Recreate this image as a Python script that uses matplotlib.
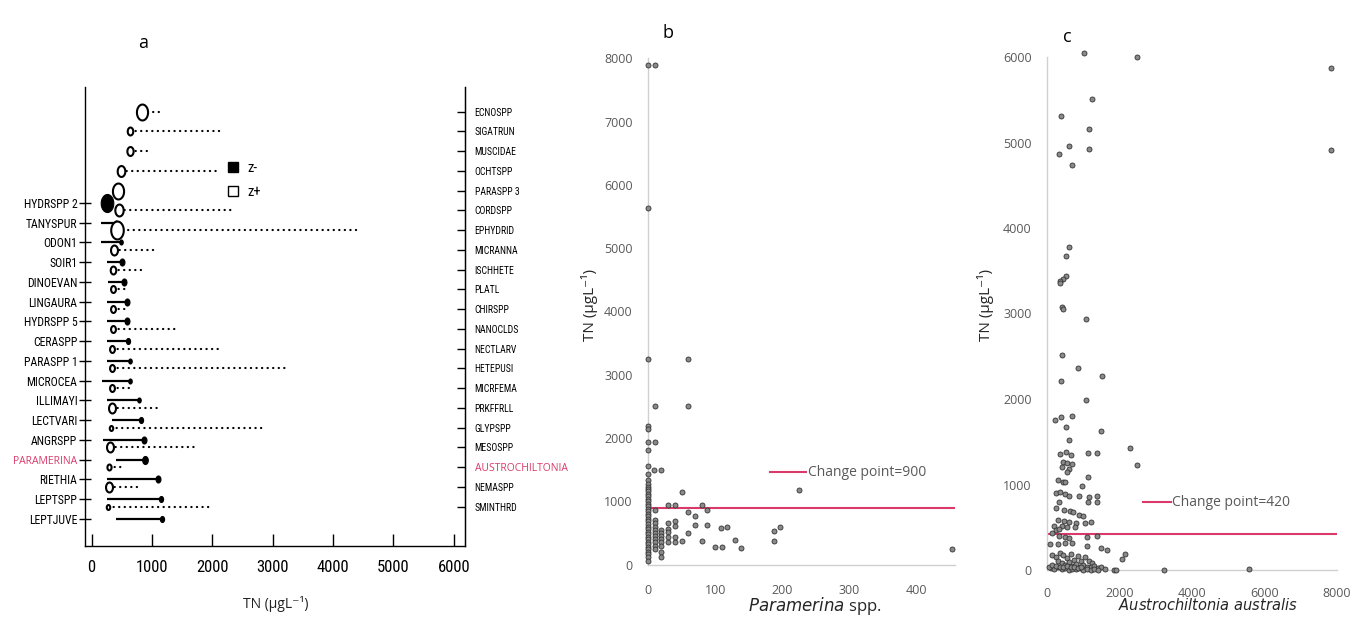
import numpy as np
import matplotlib
matplotlib.use('Agg')
import matplotlib.pyplot as plt
from matplotlib import font_manager
from matplotlib.path import Path
from matplotlib.lines import Line2D


def have(f):
    try:
        font_manager.findfont(font_manager.FontProperties(family=f), fallback_to_default=False)
        return True
    except Exception:
        return False


NARROW = next((f for f in ['Liberation Sans Narrow', 'DejaVu Sans Condensed',
                           'Roboto Condensed', 'Liberation Sans'] if have(f)), 'DejaVu Sans')
SANS = ['Open Sans', 'DejaVu Sans']

# ---------------- data: panel a (TITAN change points, TN ugL-1) ----------------
zminus_taxa = ['HYDRSPP 2', 'TANYSPUR', 'ODON1', 'SOIR1', 'DINOEVAN', 'LINGAURA', 'HYDRSPP 5',
               'CERASPP', 'PARASPP 1', 'MICROCEA', 'ILLIMAYI', 'LECTVARI', 'ANGRSPP',
               'PARAMERINA', 'RIETHIA', 'LEPTSPP', 'LEPTJUVE']
zminus_lo = [200, 150, 150, 260, 270, 260, 260, 252, 252, 170, 252, 335, 197, 400, 252, 252, 400]
zminus_cp = [260, 400, 480, 510, 530, 580, 580, 600, 640, 640, 780, 825, 865, 880, 1100, 1150, 1170]
zminus_z = [18, 5, 5, 7, 7, 7, 7, 6, 5, 5, 5, 6, 7, 8, 7, 6, 6]

zplus_taxa = ['ECNOSPP', 'SIGATRUN', 'MUSCIDAE', 'OCHTSPP', 'PARASPP 3', 'CORDSPP', 'EPHYDRID',
              'MICRANNA', 'ISCHHETE', 'PLATL', 'CHIRSPP', 'NANOCLDS', 'NECTLARV', 'HETEPUSI',
              'MICRFEMA', 'PRKFFRLL', 'GLYPSPP', 'MESOSPP', 'AUSTROCHILTONIA', 'NEMASPP', 'SMINTHRD']
zplus_cp = [830, 637, 637, 483, 445, 450, 417, 378, 361, 361, 361, 361, 345, 345, 345, 345,
            323, 306, 295, 290, 278]
zplus_hi = [1160, 2130, 940, 2100, 445, 2320, 4390, 1106, 858, 583, 583, 1410, 2128, 3230,
            665, 1106, 2834, 1713, 527, 775, 1962]
zplus_z = [18, 10, 11, 13, 18, 14, 20, 12, 10, 9, 9, 9, 9, 9, 9, 12, 7, 12, 8, 12, 7]

highlight = {'PARAMERINA', 'AUSTROCHILTONIA'}

# ---------------- data: panel b (Paramerina spp. vs TN) ----------------
b_x = [0, 10, 0, 0, 60, 10, 60,
       0, 0, 0, 10, 0, 0, 9, 19, 0,
       0, 0, 0, 0, 0, 0, 0, 0, 0, 0, 0, 0, 0, 0, 0, 0, 0, 0, 0, 0, 0, 0, 0, 0, 0, 0, 0, 0, 0, 0, 0, 0,
       50, 30, 40, 80, 10, 60, 88, 70,
       10, 10, 10, 10, 10, 10, 10, 10, 10, 10,
       20, 20, 20, 20, 20, 20, 20, 20,
       30, 40, 70, 88, 108, 118, 30, 40, 60, 30, 40, 50, 80, 100, 110, 129, 139,
       225, 187, 197, 187, 453, 30, 40, 30]
b_y = [7900, 7900, 5630, 3240, 3240, 2500, 2500,
       2185, 2145, 1940, 1930, 1817, 1555, 1500, 1500, 1437,
       1330, 1280, 1230, 1200, 1160, 1120, 1080, 1040, 1000, 960, 920, 880, 840, 800, 760, 720,
       680, 640, 600, 560, 520, 480, 440, 400, 360, 320, 280, 240, 200, 160, 120, 50,
       1142, 937, 937, 937, 855, 826, 855, 763,
       700, 650, 600, 550, 500, 450, 400, 350, 300, 250,
       550, 500, 450, 400, 350, 300, 200, 120,
       660, 685, 620, 620, 570, 600, 565, 610, 500, 360, 352, 370, 370, 280, 280, 384, 253,
       1174, 527, 596, 370, 248, 520, 430, 430]
b_change = 900

# ---------------- data: panel c (Austrochiltonia australis vs TN) ----------------
c_x = [1030, 2475, 7830, 1230, 386, 1160, 616, 1160, 340, 7830, 690,
       607, 533, 520, 430, 370, 350,
       405, 430, 1076, 405, 865, 1526, 386, 1076,
       221, 386, 680, 524, 1490, 598, 2290,
       368, 533, 671, 1140, 1388, 2475,
       450, 560, 680, 410, 600, 550,
       1140, 300, 440, 500, 965,
       240, 368, 500, 600, 870, 1150, 1388,
       330, 1130, 1380, 250, 460, 640, 720, 880, 1000,
       300, 460, 600, 800, 1050, 1200, 200, 400, 560, 760,
       240, 330, 150, 320, 490, 600, 1100, 1380, 80, 300, 500, 700, 1100, 1500, 1650, 2160, 2080,
       150, 250, 350, 450, 550, 650, 750, 850, 950, 1050, 1150, 1250,
       300, 400, 500, 600, 700, 800, 900, 1000, 1100, 1200, 1300, 1400, 1500, 1600,
       1850, 1900, 3230, 5570,
       100, 200, 300, 400, 500, 600, 700, 800, 900, 1000, 1100, 1200, 1300, 1400,
       50, 150, 250, 350, 450, 550, 650, 750, 850, 950]
c_y = [6050, 6000, 5870, 5510, 5310, 5160, 4960, 4920, 4870, 4910, 4740,
       3780, 3670, 3440, 3400, 3380, 3360,
       3080, 3050, 2940, 2515, 2360, 2270, 2210, 1990,
       1755, 1790, 1800, 1670, 1620, 1520, 1423,
       1360, 1380, 1350, 1365, 1370, 1230,
       1260, 1255, 1240, 1210, 1180, 1150,
       1090, 1050, 1030, 1030, 983,
       900, 910, 890, 860, 870, 850, 870,
       790, 800, 790, 720, 700, 690, 680, 640, 630,
       580, 570, 560, 550, 550, 560, 520, 510, 500, 500,
       470, 480, 430, 400, 390, 380, 390, 400, 300, 300, 310, 320, 280, 260, 230, 190, 130,
       180, 150, 200, 170, 140, 190, 120, 160, 110, 150, 100, 80,
       100, 80, 60, 90, 50, 70, 40, 60, 40, 30, 50, 20, 30, 15,
       5, 5, 0, 10,
       20, 10, 30, 10, 20, 5, 15, 10, 20, 5, 10, 5, 10, 5,
       40, 60, 50, 40, 30, 50, 30, 40, 20, 30]
c_change = 420

# ---------------- figure ----------------
W, H = 1354, 617
fig = plt.figure(figsize=(W / 100, H / 100), dpi=100)


def fr(x0, y0, x1, y1):
    return [x0 / W, 1 - y1 / H, (x1 - x0) / W, (y1 - y0) / H]


RED = '#d93a6a'
GREY_T = '#595959'

# ellipse marker (circles look slightly tall in the original)
t = np.linspace(0, 2 * np.pi, 64)
ELL = Path(np.column_stack([0.70 * np.cos(t), np.sin(t)]), closed=True)

# ---------- panel a ----------
ax = fig.add_axes(fr(85, 87, 465, 546))
ax.set_xlim(-108, 6184)
row0 = 4.62
zplus_rows = np.arange(len(zplus_taxa), dtype=float)
zminus_rows = row0 + np.arange(len(zminus_taxa), dtype=float)
ax.set_ylim(22.0, -1.25)

for lo, cp, z, r in zip(zminus_lo, zminus_cp, zminus_z, zminus_rows):
    ax.plot([lo, cp], [r, r], color='black', lw=1.6, solid_capstyle='butt', zorder=2)
    ax.plot([cp], [r], marker=ELL, ms=z * 0.72, mfc='black', mec='black', mew=0.8, ls='none', zorder=3)

for cp, hi, z, r in zip(zplus_cp, zplus_hi, zplus_z, zplus_rows):
    ax.plot([cp, hi], [r, r], color='black', lw=1.6, ls=(0, (0.1, 2.4)),
            dash_capstyle='round', zorder=2)
    ax.plot([cp], [r], marker=ELL, ms=max(z * 0.72 - 1.5, 2), mfc='white', mec='black',
            mew=1.5, ls='none', zorder=4)

ax.spines['top'].set_visible(False)
for s in ['left', 'right', 'bottom']:
    ax.spines[s].set_linewidth(1.0)
ax.set_xticks([0, 1000, 2000, 3000, 4000, 5000, 6000])
ax.tick_params(axis='x', direction='in', length=9, width=1.0, pad=10, labelsize=12)
for lab in ax.get_xticklabels():
    lab.set_fontfamily(NARROW)
ax.set_yticks(zminus_rows)
ax.set_yticklabels(zminus_taxa)
ax.tick_params(axis='y', direction='inout', length=9, width=1.0, pad=1, labelsize=8.5)
for lab in ax.get_yticklabels():
    lab.set_fontfamily(NARROW)
    if lab.get_text() in highlight:
        lab.set_color(RED)
        lab.set_fontfamily(SANS)
        lab.set_fontsize(7.5)

tw = ax.twinx()
tw.set_ylim(ax.get_ylim())
tw.set_yticks(zplus_rows)
tw.set_yticklabels(zplus_taxa)
tw.tick_params(axis='y', direction='in', length=6, width=1.0, pad=7, labelsize=7)
for s in ['top', 'left', 'bottom']:
    tw.spines[s].set_visible(False)
for lab in tw.get_yticklabels():
    lab.set_fontfamily(NARROW)
    if lab.get_text() in highlight:
        lab.set_color(RED)
        lab.set_fontfamily(SANS)
        lab.set_fontsize(7.5)

leg = ax.legend(handles=[Line2D([], [], marker='s', ls='none', ms=7.5, mfc='black', mec='black'),
                         Line2D([], [], marker='s', ls='none', ms=7.5, mfc='white', mec='black', mew=1)],
                labels=['z-', 'z+'], frameon=False, loc='upper left',
                bbox_to_anchor=(226 / W, 1 - 161 / H), bbox_transform=fig.transFigure,
                prop={'family': NARROW, 'size': 10.5}, handletextpad=0.5, labelspacing=0.7,
                borderpad=0, borderaxespad=0, handlelength=1.0)

fig.text(276 / W, 1 - 604 / H, 'TN (µgL⁻¹)', ha='center', va='center', fontsize=10,
         family=SANS, color='#222222')
fig.text(143 / W, 1 - 43 / H, 'a', ha='center', va='center', fontsize=13, family=SANS)


# ---------- panels b, c ----------
def excel_axes(a):
    for s in ['top', 'right']:
        a.spines[s].set_visible(False)
    for s in ['left', 'bottom']:
        a.spines[s].set_color('#d0d0d0')
        a.spines[s].set_linewidth(1.0)
    a.tick_params(length=0, labelcolor=GREY_T, labelsize=9)
    for lab in a.get_xticklabels() + a.get_yticklabels():
        lab.set_fontfamily(SANS)


bx = fig.add_axes(fr(648, 58.3, 955, 564.5))
bx.set_xlim(0, 457)
bx.set_ylim(0, 8000)
bx.scatter(b_x, b_y, s=13, facecolor='#8a8a8a', edgecolor='#333333', linewidths=0.6,
           zorder=3, clip_on=False)
bx.axhline(b_change, color=RED, lw=1.5, zorder=2)
bx.set_xticks([0, 100, 200, 300, 400])
bx.set_yticks(range(0, 8001, 1000))
bx.tick_params(axis='x', pad=14)
bx.tick_params(axis='y', pad=11)
excel_axes(bx)
bx.set_ylabel('TN (µgL⁻¹)', family=SANS, fontsize=11, color='#262626')
bx.yaxis.label.set_ha('center')
bx.yaxis.label.set_va('center')
bx.yaxis.set_label_coords(-(648 - 590) / 307, (564.5 - 305) / 506.2)
bx.set_xlabel(r'$\it{Paramerina}$ spp.', family=SANS, fontsize=12, color='#262626')
bx.xaxis.label.set_va('center')
bx.xaxis.set_label_coords((815 - 648) / 307, -(606 - 564.5) / 506.2)
bx.legend(handles=[Line2D([], [], color=RED, lw=1.5)], labels=['Change point=' + str(b_change)],
          frameon=False, loc='center left', bbox_to_anchor=(770 / W, 1 - 473 / H),
          bbox_transform=fig.transFigure, prop={'family': SANS, 'size': 10},
          handlelength=2.6, handletextpad=0.1, borderpad=0, borderaxespad=0, labelcolor=GREY_T)
fig.text(668 / W, 1 - 33 / H, 'b', ha='center', va='center', fontsize=13, family=SANS)

cx = fig.add_axes(fr(1047, 57, 1337, 570))
cx.set_xlim(0, 8000)
cx.set_ylim(0, 6000)
cx.scatter(c_x, c_y, s=13, facecolor='#8a8a8a', edgecolor='#333333', linewidths=0.6,
           zorder=3, clip_on=False)
cx.axhline(c_change, color=RED, lw=1.5, zorder=2)
cx.set_xticks([0, 2000, 4000, 6000, 8000])
cx.set_yticks(range(0, 6001, 1000))
cx.tick_params(axis='x', pad=12)
cx.tick_params(axis='y', pad=11)
excel_axes(cx)
cx.set_ylabel('TN (µgL⁻¹)', family=SANS, fontsize=11, color='#262626')
cx.yaxis.label.set_ha('center')
cx.yaxis.label.set_va('center')
cx.yaxis.set_label_coords(-(1047 - 985) / 290, (570 - 305) / 513)
cx.set_xlabel(r'$\it{Austrochiltonia\ australis}$', family=SANS, fontsize=10.5, color='#262626')
cx.xaxis.label.set_va('center')
cx.xaxis.set_label_coords((1208 - 1047) / 290, -(606 - 570) / 513)
cx.legend(handles=[Line2D([], [], color=RED, lw=1.5)], labels=['Change point=' + str(c_change)],
          frameon=False, loc='center left', bbox_to_anchor=(1143 / W, 1 - 503 / H),
          bbox_transform=fig.transFigure, prop={'family': SANS, 'size': 10},
          handlelength=2.0, handletextpad=0.1, borderpad=0, borderaxespad=0, labelcolor=GREY_T)
fig.text(1067 / W, 1 - 37 / H, 'c', ha='center', va='center', fontsize=13, family=SANS)

fig.savefig('out.png', dpi=100)
